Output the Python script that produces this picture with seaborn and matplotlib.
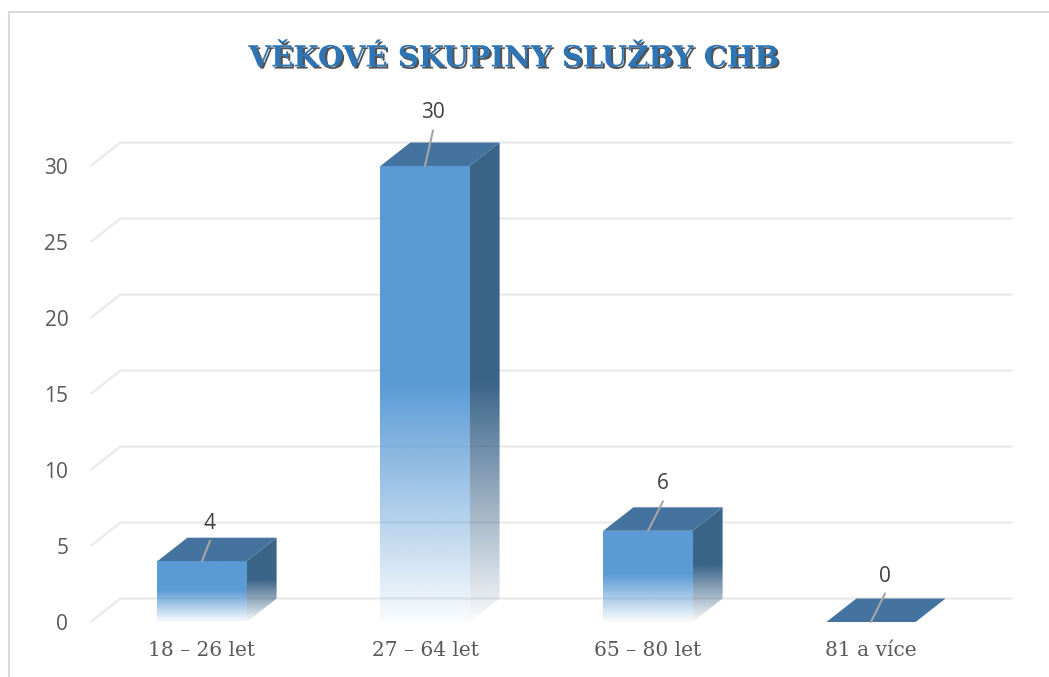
import numpy as np
import pandas as pd
import matplotlib
matplotlib.use("Agg")
import matplotlib.pyplot as plt
import matplotlib.patheffects as pe
from matplotlib.patches import Polygon, Rectangle
from matplotlib.colors import to_rgb
import seaborn as sns

# ---------------- data ----------------
categories = ["18 – 26 let", "27 – 64 let", "65 – 80 let", "81 a více"]
values = [4, 30, 6, 0]
y_ticks = [0, 5, 10, 15, 20, 25, 30]
title = "VĚKOVÉ SKUPINY SLUŽBY CHB"

# ---------------- style ----------------
FRONT = "#5B9BD5"
TOP = "#44739F"
SIDE = "#3B6489"
GRID = "#EAEAEA"
TEXT = "#595959"
LABEL = "#404040"
LEADER = "#A6A6A6"
DEPTH_PX = (30, 23.5)            # 3-D depth offset in pixels
LABEL_OFFSETS = [(8, 38), (8, 53), (15, 47), (14, 46)]  # value label offsets (px)

df = pd.DataFrame({"group": categories, "count": values})

sns.set_theme(style="white")
plt.rcParams["font.family"] = ["Open Sans", "DejaVu Sans"]

W, H = 1049, 677
fig = plt.figure(figsize=(W / 100, H / 100), dpi=100)
ax = fig.add_axes([90.5 / W, 55 / H, 892 / W, 532 / H])

sns.barplot(data=df, x="group", y="count", width=0.4, ax=ax, color=FRONT,
            errorbar=None, zorder=2)
ax.set_xlim(-0.5, 3.5)
ax.set_ylim(0, 35)

# pixel -> data conversion for depth
p0 = ax.transData.transform((0, 0))
q = ax.transData.inverted().transform((p0[0] + DEPTH_PX[0], p0[1] + DEPTH_PX[1]))
DX, DY = q[0], q[1]

# back-wall gridlines with perspective diagonal
x_left, x_right = ax.get_xlim()
for v in y_ticks:
    ax.plot([x_left, x_left + DX, x_right + DX], [v, v + DY, v + DY],
            color=GRID, lw=1.6, zorder=0.5, clip_on=False, solid_capstyle="butt")


def gradient_image(color, n=256, solid_frac=0.45, min_alpha=0.03):
    r, g, b = to_rgb(color)
    t = np.linspace(0, 1, n)  # 0 bottom, 1 top
    a = np.clip(t / (1 - solid_frac), 0, 1)
    a = min_alpha + (1 - min_alpha) * a
    img = np.zeros((n, 1, 4))
    img[:, 0, 0] = r
    img[:, 0, 1] = g
    img[:, 0, 2] = b
    img[:, 0, 3] = a
    return img


bars = list(ax.patches)
for i, patch in enumerate(bars):
    x0 = patch.get_x()
    w = patch.get_width()
    h = patch.get_height()
    x1 = x0 + w
    patch.set_visible(False)

    if h > 0:
        # front face gradient
        front_poly = Polygon([(x0, 0), (x1, 0), (x1, h), (x0, h)], closed=True,
                             facecolor="none", edgecolor="none", transform=ax.transData)
        ax.add_patch(front_poly)
        im = ax.imshow(gradient_image(FRONT, solid_frac=0.48), extent=(x0, x1, 0, h),
                       origin="lower", aspect="auto", interpolation="bilinear", zorder=2)
        im.set_clip_path(front_poly)

        # side face gradient
        side_poly = Polygon([(x1, 0), (x1 + DX, DY), (x1 + DX, h + DY), (x1, h)],
                            closed=True, facecolor="none", edgecolor="none",
                            transform=ax.transData)
        ax.add_patch(side_poly)
        im2 = ax.imshow(gradient_image(SIDE, solid_frac=0.5), extent=(x1, x1 + DX, 0, h + DY),
                        origin="lower", aspect="auto", interpolation="bilinear", zorder=2)
        im2.set_clip_path(side_poly)

    # top face
    top_poly = Polygon([(x0, h), (x1, h), (x1 + DX, h + DY), (x0 + DX, h + DY)],
                       closed=True, facecolor=TOP, edgecolor="none", zorder=3, clip_on=False)
    ax.add_patch(top_poly)

    # value label with leader line
    cx = x0 + w / 2
    dx, dy = LABEL_OFFSETS[i]
    ax.annotate("", xy=(cx, h), xytext=(dx, dy - 17.5), textcoords="offset pixels",
                arrowprops=dict(arrowstyle="-", color=LEADER, lw=1.5, shrinkA=0, shrinkB=0),
                zorder=4, annotation_clip=False)
    ax.annotate(f"{values[i]}", xy=(cx, h), xytext=(dx, dy), textcoords="offset pixels",
                ha="center", va="center", fontsize=15, color=LABEL, zorder=5,
                annotation_clip=False)

ax.set_xlim(x_left, x_right)
ax.set_ylim(0, 35)
ax.set_yticks(y_ticks)
ax.set_xlabel("")
ax.set_ylabel("")
for s in ax.spines.values():
    s.set_visible(False)
ax.grid(False)
ax.tick_params(axis="y", length=0, pad=16, labelsize=15, labelcolor=TEXT)
ax.tick_params(axis="x", length=0, pad=14, labelcolor=TEXT)
for lbl in ax.get_xticklabels():
    lbl.set_fontfamily(["DejaVu Serif"])
    lbl.set_fontsize(14.5)
    lbl.set_color(TEXT)

# title
fig.text(513.5 / W, 1 - 58 / H, title, ha="center", va="center",
         fontfamily=["DejaVu Serif"], fontweight="bold", fontsize=21, color="#2E75B6",
         path_effects=[pe.withSimplePatchShadow(offset=(1.5, -1.5),
                                                shadow_rgbFace="#3F3F3F", alpha=0.9)])

# chart-area border
fig.add_artist(Rectangle((9 / W, -0.1), 2, 1 - 12 / H + 0.1, transform=fig.transFigure,
                         fill=False, edgecolor="#D9D9D9", lw=1.5))

fig.savefig("out.png", dpi=100)
